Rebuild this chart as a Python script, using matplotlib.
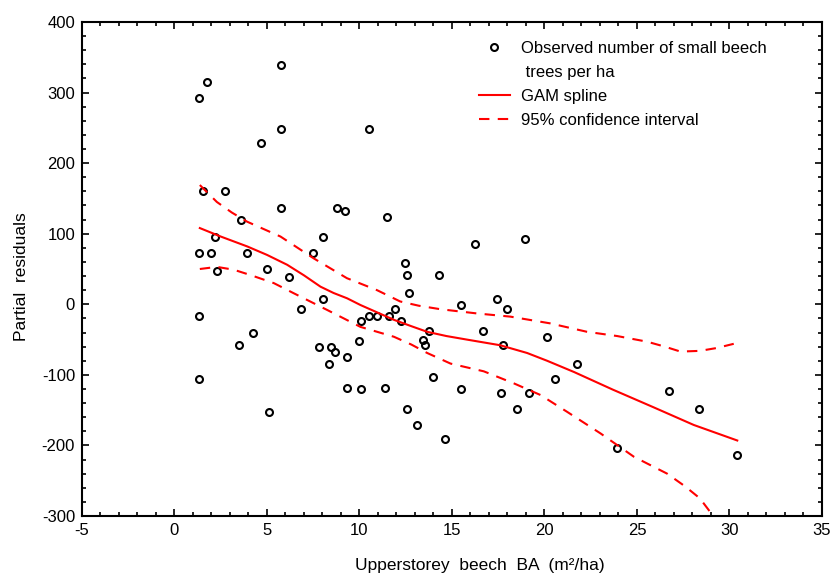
import matplotlib.pyplot as plt
from matplotlib.ticker import MultipleLocator

plt.rcParams["font.family"] = ["Liberation Sans", "DejaVu Sans"]
plt.rcParams["axes.unicode_minus"] = False

# observed partial residuals
obs_x = [1.33, 1.77, 5.77, 5.77, 4.67, 10.52, 1.55, 2.74, 3.6, 5.77, 8.79, 9.21,
         11.5, 2.2, 8.03, 1.33, 1.98, 3.93, 7.48, 2.29, 5.01, 6.2, 12.47, 12.58,
         14.29, 12.69, 1.33, 1.33, 3.5, 4.25, 5.12, 6.85, 8.02, 7.82, 8.47, 8.69,
         8.36, 9.33, 9.33, 9.98, 10.08, 10.08, 10.52, 10.96, 11.39, 11.6, 11.93,
         12.25, 12.58, 13.12, 13.44, 13.55, 13.77, 13.98, 14.63, 15.5, 15.5,
         16.25, 18.96, 17.44, 17.98, 16.68, 17.77, 20.14, 21.77, 17.66, 19.17,
         20.58, 18.52, 23.93, 26.74, 28.36, 30.42]
obs_y = [293, 315, 339, 248, 228, 248, 160, 160, 120, 137, 137, 132,
         123, 95, 95, 72, 72, 72, 72, 47, 50, 39, 58, 41,
         41, 16, -16, -106, -58, -41, -152, -7, 7, -61, -61, -67,
         -84, -75, -118, -52, -24, -120, -16, -16, -118, -16, -7,
         -24, -149, -171, -50, -58, -38, -103, -191, -1, -120,
         86, 92, 7, -7, -38, -58, -47, -84, -126, -126,
         -106, -149, -203, -123, -149, -214]

# GAM spline
fit_x = [1.37, 2.5, 3.93, 5.0, 6.09, 7.0, 7.89, 8.6, 9.33, 10.05, 11.0, 11.86,
         12.8, 13.66, 14.7, 15.8, 17.6, 19.06, 20.14, 21.6, 23.7, 25.9, 28.07, 30.42]
fit_y = [108, 96, 82, 70, 56, 41, 25, 16, 8.5, -1, -12, -22,
         -31, -39, -45, -50, -58, -69, -80, -96, -121, -146, -171, -193]

# 95% confidence band
up_x = [1.37, 2.29, 3.1, 3.93, 5.73, 7.53, 9.32, 10.95, 12.2, 13.2, 14.38, 16.36,
        18.16, 20.3, 22.3, 23.93, 25.55, 26.5, 27.35, 28.4, 29.3, 30.23]
up_y = [169, 145, 130, 117, 96, 65, 37, 20, 4, -2, -7, -13,
        -17.5, -27, -39, -45, -53, -60, -67, -66, -62, -56]
lo_x = [1.37, 2.29, 3.2, 4.1, 5.37, 6.45, 8.25, 10.05, 11.86, 12.8, 13.66, 14.92,
        16.72, 18.34, 19.78, 21.2, 23.03, 24.83, 26.63, 27.6, 28.4, 29.15]
lo_y = [50, 53, 49, 41.5, 30, 15.6, -8, -32, -46, -57, -69, -84,
        -95, -112, -128.5, -152, -183, -216, -240, -258, -275, -301]

fig = plt.figure(figsize=(8.34, 5.79), dpi=100)
ax = fig.add_axes([0.0983, 0.1088, 0.8873, 0.8532])

ax.plot(obs_x, obs_y, "o", ms=5, mfc="none", mec="black", mew=1.5,
        label="Observed number of small beech")
ax.plot([], [], ls="none", label=" trees per ha")  # second line of the first legend entry
ax.plot(fit_x, fit_y, color="red", lw=1.5, label="GAM spline")
ax.plot(up_x, up_y, color="red", lw=1.5, ls=(0, (5, 4)), label="95% confidence interval")
ax.plot(lo_x, lo_y, color="red", lw=1.5, ls=(0, (5, 4)))

ax.set_xlim(-5, 35)
ax.set_ylim(-300, 400)
ax.xaxis.set_major_locator(MultipleLocator(5))
ax.xaxis.set_minor_locator(MultipleLocator(1))
ax.yaxis.set_major_locator(MultipleLocator(100))
ax.yaxis.set_minor_locator(MultipleLocator(20))
ax.tick_params(which="both", direction="in", top=True, right=True, labelsize=12,
               width=1.2, pad=5)
ax.tick_params(which="major", length=5)
ax.tick_params(which="minor", length=3)
for s in ax.spines.values():
    s.set_linewidth(1.5)

ax.set_xlabel("Upperstorey  beech  BA  (m²/ha)", fontsize=12.5)
ax.set_ylabel("Partial  residuals", fontsize=12.5)
ax.xaxis.set_label_coords(0.538, -0.084)
ax.yaxis.set_label_coords(-0.072, 0.484)

ax.legend(loc="upper left", bbox_to_anchor=(0.536, 0.962), frameon=False, fontsize=12,
          borderpad=0, borderaxespad=0, handlelength=1.9, handletextpad=0.65,
          labelspacing=0.55)

fig.savefig("out.png", dpi=100)
